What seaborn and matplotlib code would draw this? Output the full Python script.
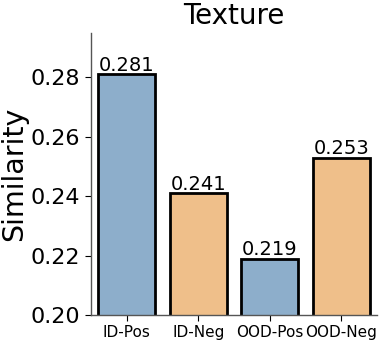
import matplotlib
matplotlib.use("Agg")
import matplotlib.pyplot as plt
import seaborn as sns
import pandas as pd

categories = ["ID-Pos", "ID-Neg", "OOD-Pos", "OOD-Neg"]
values = [0.281, 0.241, 0.219, 0.253]
colors = ["#8daecb", "#efbf8a", "#8daecb", "#efbf8a"]
title = "Texture"
ylabel = "Similarity"

sns.set_style("white")
plt.rcParams['font.family'] = ['DejaVu Sans']
plt.rcParams['text.color'] = 'black'
plt.rcParams['axes.labelcolor'] = 'black'
plt.rcParams['xtick.color'] = 'black'
plt.rcParams['ytick.color'] = 'black'

df = pd.DataFrame({"cat": categories, "val": values})
fig = plt.figure(figsize=(3.82, 3.42), dpi=100)
ax = fig.add_axes([0.238, 0.079, 0.749, 0.825])
sns.barplot(data=df, x="cat", y="val", hue="cat", palette=colors, legend=False,
            edgecolor="black", linewidth=2, width=0.8, ax=ax, saturation=1)
for p, v in zip(ax.patches, values):
    ax.text(p.get_x() + p.get_width() / 2, v - 0.0003, f"{v:.3f}", ha="center", va="bottom",
            fontsize=14, color="black")
ax.set_ylim(0.20, 0.295)
ax.set_xlim(-0.5, 3.5)
ax.set_yticks([0.20, 0.22, 0.24, 0.26, 0.28])
ax.tick_params(axis="y", labelsize=16, left=True, length=4, colors="black")
ax.tick_params(axis="x", labelsize=11, bottom=True, length=4, colors="black")
ax.set_xlabel("")
ax.set_ylabel(ylabel, fontsize=20.5, color="black", labelpad=2)
ax.set_title(title, fontsize=20, color="black")
sns.despine(ax=ax)
for s in ["left", "bottom"]:
    ax.spines[s].set_color("#555555")
    ax.spines[s].set_linewidth(1)
fig.savefig("out.png", dpi=100)
